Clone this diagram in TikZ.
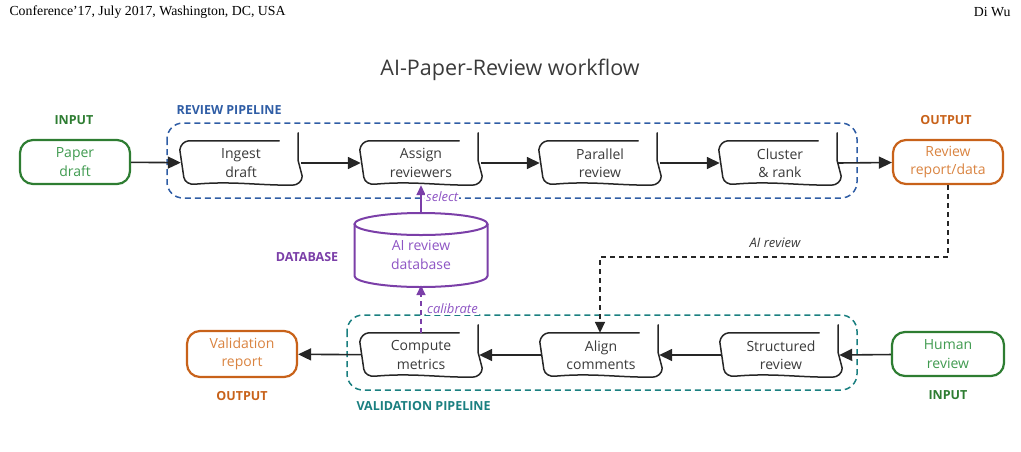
\documentclass[tikz,border=0pt]{standalone}
\usepackage{fontspec}
\setmainfont{Open Sans}
\newfontfamily\headfont{Liberation Serif}
\usetikzlibrary{arrows.meta}

\definecolor{linegray}{HTML}{262626}
\definecolor{textgray}{HTML}{3A3A3A}
\definecolor{ingreen}{HTML}{2E7D32}
\definecolor{ingreentext}{HTML}{3F9A4F}
\definecolor{outorange}{HTML}{C8621A}
\definecolor{outorangetext}{HTML}{D98340}
\definecolor{dbpurple}{HTML}{7B3FA8}
\definecolor{dbpurpletext}{HTML}{8E55C4}
\definecolor{pipeblue}{HTML}{2F5DA5}
\definecolor{pipeteal}{HTML}{1A7F80}

\tikzset{
  stepbox/.style={minimum width=120pt,minimum height=44pt,inner sep=0pt,align=center,
    text=textgray,font=\fontsize{14}{18.5}\selectfont},
  sketch/.style={line width=1.5pt,draw=linegray,line join=round,line cap=round},
  endbox/.style={draw,line width=2.2pt,rounded corners=13pt,minimum width=110pt,
    minimum height=44pt,inner sep=0pt,align=center,font=\fontsize{14}{18.5}\selectfont},
  flow/.style={line width=1.6pt,draw=linegray,-{Triangle[length=13pt,width=12pt]}},
  tag/.style={font=\fontsize{12.5}{14}\selectfont\bfseries},
  note/.style={font=\fontsize{13}{15}\selectfont\itshape},
  group/.style={line width=1.5pt,rounded corners=16pt,dash pattern=on 6pt off 4pt},
}

\begin{document}
\begin{tikzpicture}[x=1pt,y=-1pt]
\useasboundingbox (0,0) rectangle (1021,451);

\node[anchor=west,font=\headfont\fontsize{13.8}{15}\selectfont] (conf) at (6,12) {Conference’17, July 2017, Washington, DC, USA};
\node[anchor=east,font=\headfont\fontsize{13.8}{15}\selectfont] (author) at (1014,12) {Di Wu};
\node[font=\fontsize{21.5}{25}\selectfont,text=textgray] (title) at (510,70) {AI-Paper-Review workflow};

\draw[group,draw=pipeblue] (167,123) rectangle (857,198);
\draw[group,draw=pipeteal] (347,315) rectangle (857,390);
\node[tag,text=pipeblue,anchor=west] (reviewtag) at (173,110) {REVIEW PIPELINE};
\node[tag,text=pipeteal,anchor=west] (validtag) at (353,406) {VALIDATION PIPELINE};

\node[stepbox] (ingest) at (241,163) {Ingest\\draft};
\node[stepbox] (assign) at (421,163) {Assign\\reviewers};
\node[stepbox] (parallel) at (600,163) {Parallel\\review};
\node[stepbox] (cluster) at (780,163) {Cluster\\\& rank};
\node[stepbox] (compute) at (421,355) {Compute\\metrics};
\node[stepbox] (align) at (601,355) {Align\\comments};
\node[stepbox] (structured) at (781,355) {Structured\\review};

\foreach \n in {ingest,assign,parallel,cluster,compute,align,structured}
  \draw[sketch] ([xshift=-22pt]\n.north east) -- ([xshift=8pt]\n.north west)
    to[out=185,in=80] ([xshift=-1pt,yshift=-9pt]\n.north west)
    -- ([xshift=3pt,yshift=8pt]\n.south west)
    to[out=-80,in=185] ([xshift=14pt,yshift=1pt]\n.south west)
    to[out=5,in=180] ([xshift=-9pt]\n.south east)
    to[out=0,in=-90] ([xshift=1pt,yshift=9pt]\n.south east)
    -- ([xshift=-3pt,yshift=-20pt]\n.north east) -- ([xshift=-3pt,yshift=8pt]\n.north east);

\node[endbox,draw=ingreen,text=ingreentext] (paper) at (75,162) {Paper\\draft};
\node[endbox,draw=outorange,text=outorangetext] (report) at (948,162) {Review\\report/data};
\node[endbox,draw=outorange,text=outorangetext,minimum height=46pt] (valreport) at (242,354) {Validation\\report};
\node[endbox,draw=ingreen,text=ingreentext,minimum width=112pt] (human) at (948,354) {Human\\review};

\node[tag,text=ingreen] (intag) at (74,120) {INPUT};
\node[tag,text=outorange] (outtag) at (946,120) {OUTPUT};
\node[tag,text=outorange] (valouttag) at (242,396) {OUTPUT};
\node[tag,text=ingreen] (humanintag) at (948,395) {INPUT};
\node[tag,text=dbpurple] (dbtag) at (307,257) {DATABASE};

\node[minimum width=133pt,minimum height=74pt,inner sep=0pt,align=center,text=dbpurpletext,
  font=\fontsize{14}{18.5}\selectfont] (db) at (421,250) {\\[2pt]AI review\\database};
\draw[dbpurple,line width=2pt] (421,224) ellipse [x radius=66.5pt,y radius=11pt];
\draw[dbpurple,line width=2pt] (354.5,224) -- (354.5,276)
  arc[start angle=180,end angle=360,x radius=66.5pt,y radius=11pt] -- (487.5,224);

\draw[flow] (paper) -- (ingest);
\draw[flow] (ingest) -- (assign);
\draw[flow] (assign) -- (parallel);
\draw[flow] (parallel) -- (cluster);
\draw[flow] ([xshift=-3pt]cluster.east) -- (report);
\draw[flow] (human) -- ([xshift=-2pt]structured.east);
\draw[flow] (structured) -- ([xshift=-2pt]align.east);
\draw[flow] (align) -- ([xshift=-2pt]compute.east);
\draw[flow] (compute) -- (valreport);

\coordinate (bendright) at (948,257);
\coordinate (bendleft) at (600,257);
\draw[line width=1.6pt,draw=linegray,dash pattern=on 5pt off 4pt,-{Triangle[length=11pt,width=10pt]}]
  (report) -- (bendright) -- (bendleft) -- (align.north -| bendleft);
\node[note,text=textgray] (ailabel) at (775,243) {AI review};

\draw[line width=1.6pt,draw=dbpurple,-{Triangle[length=10pt,width=9pt]}] (db.north) -- (assign.south);
\node[note,text=dbpurpletext,anchor=west,fill=white,inner sep=1pt] (selectlabel) at (425,197) {select};
\draw[line width=1.6pt,draw=dbpurple,dash pattern=on 5pt off 4pt,-{Triangle[length=10pt,width=9pt]}]
  (compute.north) -- ([yshift=2pt]db.south);
\node[note,text=dbpurpletext,anchor=west,fill=white,inner sep=1pt] (calibratelabel) at (426,309) {calibrate};
\end{tikzpicture}
\end{document}
